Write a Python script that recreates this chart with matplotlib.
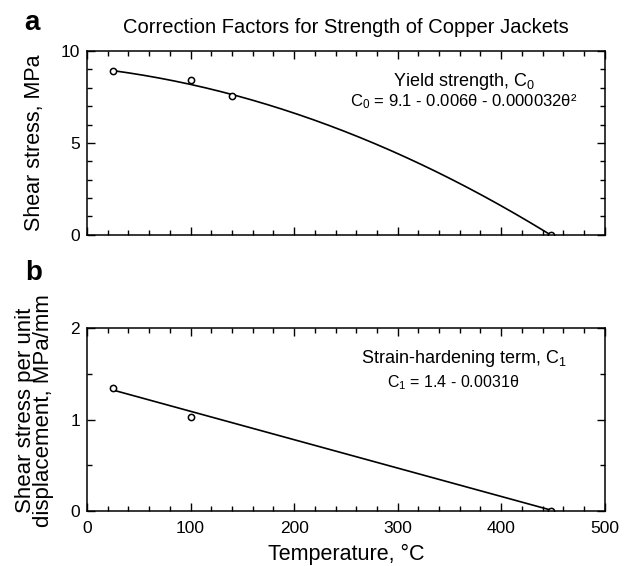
import numpy as np
import matplotlib.pyplot as plt
from matplotlib.ticker import MultipleLocator

plt.rcParams['font.family'] = ['Liberation Sans', 'DejaVu Sans']
plt.rcParams['mathtext.fontset'] = 'custom'
plt.rcParams['mathtext.rm'] = 'Liberation Sans'
plt.rcParams['mathtext.it'] = 'Liberation Sans'

# measured points
temp_a = [25, 100, 140, 448]
yield_a = [8.9, 8.4, 7.55, 0.0]
temp_b = [25, 100, 448]
harden_b = [1.35, 1.03, 0.0]

# fit coefficients shown on the chart
c0_coef = [9.1, -0.006, -0.000032]
c1_coef = [1.4, -0.0031]
fit_range = [25, 448]

x_ticks = [0, 100, 200, 300, 400, 500]

fig = plt.figure(figsize=(6.26, 5.66), dpi=100)
ax1 = fig.add_axes([0.139, 0.585, 0.827, 0.325])
ax2 = fig.add_axes([0.139, 0.097, 0.827, 0.3235])

th = np.linspace(fit_range[0], fit_range[1], 200)
c0 = c0_coef[0] + c0_coef[1] * th + c0_coef[2] * th ** 2
c1 = c1_coef[0] + c1_coef[1] * th

ax1.plot(th, c0, color='black', lw=1.2)
ax1.plot(temp_a, yield_a, 'o', mfc='white', mec='black', ms=4.5, mew=1.1)
ax2.plot(th, c1, color='black', lw=1.2)
ax2.plot(temp_b, harden_b, 'o', mfc='white', mec='black', ms=4.5, mew=1.1)

for ax in (ax1, ax2):
    ax.set_xlim(0, 500)
    ax.set_xticks(x_ticks)
    ax.xaxis.set_minor_locator(MultipleLocator(20))
    ax.tick_params(which='both', direction='in', top=True, right=True,
                   labelsize=12.5, width=1)
    ax.tick_params(which='major', length=5.5)
    ax.tick_params(which='minor', length=3.5)
    ax.tick_params(axis='x', pad=7)
    ax.tick_params(axis='y', pad=5)
    for s in ax.spines.values():
        s.set_linewidth(1.1)

ax1.set_ylim(0, 10)
ax1.set_yticks([0, 5, 10])
ax1.yaxis.set_minor_locator(MultipleLocator(1))
ax1.tick_params(labelbottom=False)
ax1.set_ylabel('Shear stress, MPa', fontsize=15.5, va='center')
ax1.yaxis.set_label_coords(-0.101, 0.5)

ax2.set_ylim(0, 2)
ax2.set_yticks([0, 1, 2])
ax2.yaxis.set_minor_locator(MultipleLocator(0.5))
ax2.set_ylabel('Shear stress per unit\ndisplacement, MPa/mm', fontsize=16,
               linespacing=0.8, va='center')
ax2.yaxis.set_label_coords(-0.102, 0.55)
ax2.set_xlabel('Temperature, \u00b0C', fontsize=15.5, va='center')
ax2.xaxis.set_label_coords(0.5, -0.235)

ax1.text(0.5, 1.125, 'Correction Factors for Strength of Copper Jackets',
         transform=ax1.transAxes, ha='center', va='center', fontsize=14.5)
fig.text(0.051, 0.959, 'a', fontsize=20, fontweight='bold', ha='center', va='center')
fig.text(0.053, 0.518, 'b', fontsize=20, fontweight='bold', ha='center', va='center')

ax1.text(0.728, 0.832, 'Yield strength, C$_0$', transform=ax1.transAxes,
         ha='center', va='center', fontsize=13)
ax1.text(0.728, 0.723, 'C$_0$ = 9.1 - 0.006\u03b8 - 0.000032\u03b8\u00b2',
         transform=ax1.transAxes, ha='center', va='center', fontsize=12)

ax2.text(0.728, 0.836, 'Strain-hardening term, C$_1$', transform=ax2.transAxes,
         ha='center', va='center', fontsize=13)
ax2.text(0.708, 0.70, 'C$_1$ = 1.4 - 0.0031\u03b8', transform=ax2.transAxes,
         ha='center', va='center', fontsize=11.5)

fig.savefig('out.png', dpi=100)
